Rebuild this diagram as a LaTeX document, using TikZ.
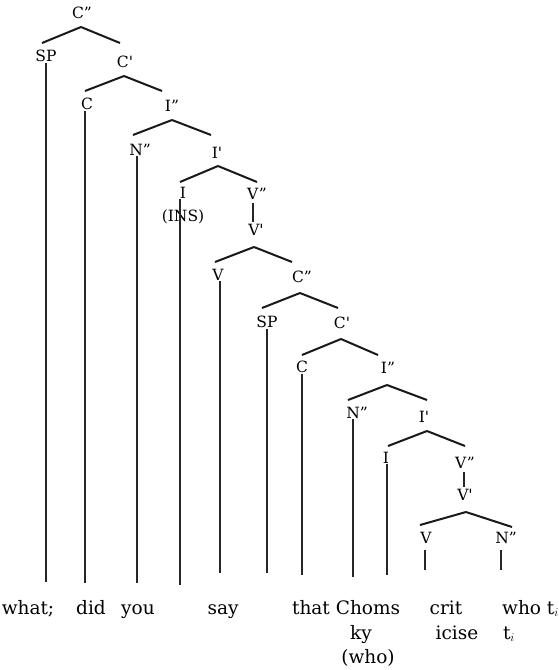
\documentclass[tikz,border=0pt]{standalone}
\usepackage{fontspec}
\setmainfont{DejaVu Serif}
\begin{document}
\begin{tikzpicture}[x=1pt,y=-1pt,
  lab/.style={inner sep=0.5pt,font=\fontsize{15.5}{18}\selectfont},
  word/.style={inner sep=0pt,anchor=base,font=\fontsize{18.5}{22}\selectfont},
  branch/.style={line width=2pt,draw=black!90},
  stem/.style={line width=1.1pt,draw=black!85}]
\useasboundingbox[fill=white] (0,0) rectangle (558,670);
\newcommand\brch[6]{\draw[branch] ([xshift=#2pt,yshift=#3pt]#1.center) -- ([xshift=#5pt,yshift=#6pt]#4.center);}
\newcommand\pr{\textquotesingle}
% labels
\node[lab] (cpp1) at (82,13) {C"};
\node[lab] (sp1) at (46,56) {SP};
\node[lab] (cp1) at (125,62) {C\pr};
\node[lab] (c1) at (87,104) {C};
\node[lab] (ipp1) at (172,106) {I"};
\node[lab] (npp1) at (140,150) {N"};
\node[lab] (ip1) at (217,153) {I\pr};
\node[lab] (i1) at (183,193) {I};
\node[lab] (ins) at (183,217) {(INS)};
\node[lab] (vpp1) at (257,194) {V"};
\node[lab] (vp1) at (256,230) {V\pr};
\node[lab] (v1) at (218,275) {V};
\node[lab] (cpp2) at (302,277) {C"};
\node[lab] (sp2) at (267,322) {SP};
\node[lab] (cp2) at (342,323) {C\pr};
\node[lab] (c2) at (302,367) {C};
\node[lab] (ipp2) at (388,368) {I"};
\node[lab] (npp2) at (357,413) {N"};
\node[lab] (ip2) at (424,417) {I\pr};
\node[lab] (i2) at (386,458) {I};
\node[lab] (vpp2) at (465,463) {V"};
\node[lab] (vp2) at (465,495) {V\pr};
\node[lab] (v2) at (426,538) {V};
\node[lab] (npp3) at (506,538) {N"};
% branches
\brch{cpp1}{-1}{-14}{sp1}{-4}{13}
\brch{cpp1}{-1}{-14}{cp1}{-5}{19}
\brch{cp1}{-1}{-14}{c1}{-2}{13}
\brch{cp1}{-1}{-14}{ipp1}{-10}{15}
\brch{ipp1}{0}{-14}{npp1}{-7}{15}
\brch{ipp1}{0}{-14}{ip1}{-6}{18}
\brch{ip1}{1}{-13}{i1}{-3}{11}
\brch{ip1}{1}{-13}{vpp1}{0}{12}
\brch{vp1}{-2}{-17}{v1}{-3}{13}
\brch{vp1}{-2}{-17}{cpp2}{-10}{15}
\brch{cpp2}{-2}{-16}{sp2}{-5}{14}
\brch{cpp2}{-2}{-16}{cp2}{-4}{15}
\brch{cp2}{-1}{-16}{c2}{0}{12}
\brch{cp2}{-1}{-16}{ipp2}{-10}{13}
\brch{ipp2}{-1}{-17}{npp2}{-9}{13}
\brch{ipp2}{-1}{-17}{ip2}{3}{17}
\brch{ip2}{3}{-14}{i2}{2}{12}
\brch{ip2}{3}{-14}{vpp2}{0}{17}
\brch{vp2}{1}{-17}{v2}{-6}{13}
\brch{vp2}{1}{-17}{npp3}{6}{11}
% unary links
\draw[stem] ([xshift=-4pt,yshift=-9pt]vpp1.center) -- ([xshift=-3pt,yshift=8pt]vp1.center);
\draw[stem] ([xshift=-1pt,yshift=-9pt]vpp2.center) -- ([xshift=-1pt,yshift=8pt]vp2.center);
% stems to the words
\coordinate (b1) at (46,582);
\coordinate (b2) at (85,583);
\coordinate (b3) at (137,583);
\coordinate (b4) at (180,585);
\coordinate (b5) at (220,573);
\coordinate (b6) at (267,573);
\coordinate (b7) at (302,575);
\coordinate (b8) at (353,577);
\coordinate (b9) at (387,575);
\coordinate (b10) at (425,570);
\coordinate (b11) at (501,570);
\draw[stem] (b1 |- sp1.south) -- (b1);
\draw[stem] (b2 |- c1.south) -- (b2);
\draw[stem] (b3 |- npp1.south) -- (b3);
\draw[stem] (b4 |- i1.south) -- (b4);
\draw[stem] (b5 |- v1.south) -- (b5);
\draw[stem] (b6 |- sp2.south) -- (b6);
\draw[stem] (b7 |- c2.south) -- (b7);
\draw[stem] (b8 |- npp2.south) -- (b8);
\draw[stem] (b9 |- i2.south) -- (b9);
\draw[stem] ([yshift=-6pt]b10 |- v2.south) -- (b10);
\draw[stem] ([yshift=-6pt]b11 |- npp3.south) -- (b11);
% words
\node[word] (w1) at (28,614) {what;};
\node[word] (w2) at (91,614) {did};
\node[word] (w3) at (138,614) {you};
\node[word] (w4) at (223,614) {say};
\node[word] (w5) at (311,614) {that};
\node[word] (w6) at (368,614) {Choms};
\node[word] (w7) at (361,639) {ky};
\node[word] (w8) at (368,663) {(who)};
\node[word] (w9) at (446,614) {crit};
\node[word] (w10) at (457,639) {icise};
\node[word,anchor=base west] (w11) at (502,614) {who t\rlap{$_i$}};
\node[word] (w12) at (509,639) {t$_i$};
\end{tikzpicture}
\end{document}
